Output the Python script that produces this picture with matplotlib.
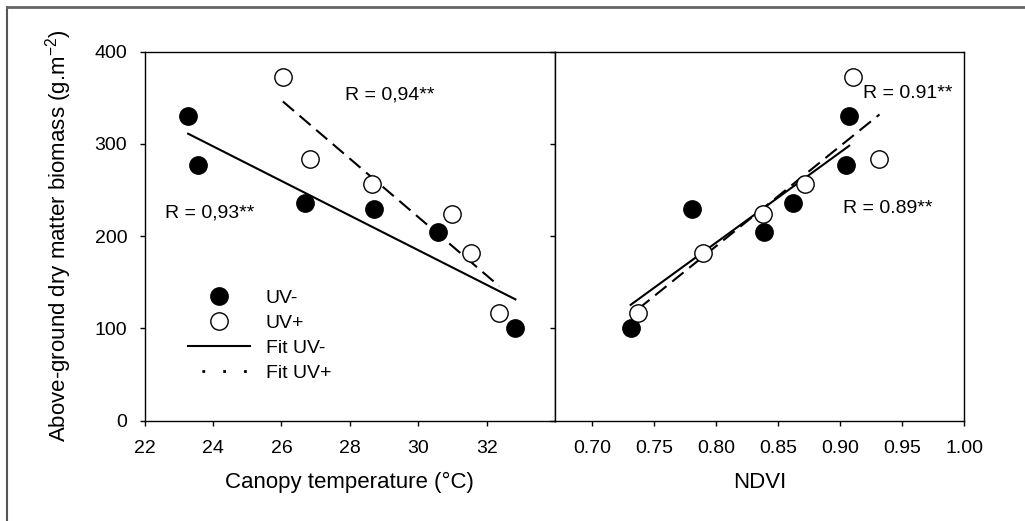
import matplotlib
matplotlib.use('Agg')
import matplotlib.pyplot as plt
import numpy as np
from matplotlib.lines import Line2D

plt.rcParams['font.family'] = ['Liberation Sans', 'DejaVu Sans']
plt.rcParams['mathtext.fontset'] = 'custom'
plt.rcParams['mathtext.rm'] = 'Liberation Sans'
plt.rcParams['mathtext.it'] = 'Liberation Sans:italic'

# Canopy temperature panel
temp_uvm = [23.27, 23.55, 26.70, 28.71, 30.59, 32.84]
bio_uvm_t = [330, 277, 236, 229, 205, 101]
temp_uvp = [26.04, 26.84, 28.65, 30.99, 31.55, 32.37]
bio_uvp_t = [373, 284, 257, 224, 182, 117]

# NDVI panel
ndvi_uvm = [0.731, 0.7805, 0.8387, 0.8618, 0.9048, 0.9072]
bio_uvm_n = [101, 229, 205, 236, 277, 330]
ndvi_uvp = [0.737, 0.789, 0.838, 0.8715, 0.9106, 0.9316]
bio_uvp_n = [117, 182, 224, 257, 373, 284]

temp_ticks = [22, 24, 26, 28, 30, 32]
ndvi_ticks = [0.70, 0.75, 0.80, 0.85, 0.90, 0.95, 1.00]
y_ticks = [0, 100, 200, 300, 400]

fig = plt.figure(figsize=(10.25, 5.21), dpi=100)
ax1 = fig.add_axes([0.1412, 0.1925, 0.4003, 0.7083])
ax2 = fig.add_axes([0.5415, 0.1925, 0.3993, 0.7083])

# grey frame around the figure (only top and left visible)
fig.add_artist(Line2D([7 / 1025, 7 / 1025], [0, 1 - 7 / 521], transform=fig.transFigure,
                      color='#555555', lw=1.5))
fig.add_artist(Line2D([7 / 1025, 1], [1 - 7 / 521, 1 - 7 / 521], transform=fig.transFigure,
                      color='#666666', lw=2))

ms = 12.5
dash = (0, (7, 3.5))


def fit(x, y):
    k, b = np.polyfit(x, y, 1)
    xs = np.array([min(x), max(x)])
    return xs, k * xs + b


for ax, xm, ym, xp, yp in [(ax1, temp_uvm, bio_uvm_t, temp_uvp, bio_uvp_t),
                           (ax2, ndvi_uvm, bio_uvm_n, ndvi_uvp, bio_uvp_n)]:
    fx, fy = fit(xm, ym)
    ax.plot(fx, fy, color='black', lw=1.5, zorder=2)
    fx, fy = fit(xp, yp)
    ax.plot(fx, fy, color='black', lw=1.5, linestyle=dash, zorder=2)
    ax.plot(xm, ym, 'o', color='black', ms=ms, zorder=3)
    ax.plot(xp, yp, 'o', mfc='white', mec='black', mew=1.0, ms=ms, zorder=3)
    ax.set_ylim(0, 400)
    ax.set_yticks(y_ticks)
    for s in ax.spines.values():
        s.set_linewidth(1.0)
    ax.tick_params(direction='out', length=3.6, width=1, labelsize=14)
    ax.tick_params(axis='x', pad=10)
    ax.tick_params(axis='y', pad=9)

ax1.set_xlim(22, 34)
ax1.set_xticks(temp_ticks)
ax1.set_xticklabels([str(t) for t in temp_ticks])
ax1.set_ylabel('Above-ground dry matter biomass (g.m$^{-2}$)', fontsize=16, labelpad=15)
ax1.set_xlabel('Canopy temperature (°C)', fontsize=16, labelpad=11)

ax2.set_xlim(0.67, 1.00)
ax2.set_xticks(ndvi_ticks)
ax2.set_xticklabels([f'{t:.2f}' for t in ndvi_ticks])
ax2.tick_params(axis='y', labelleft=False)
ax2.set_xlabel('NDVI', fontsize=16, labelpad=11)

ax1.text(0.488, 0.883, 'R = 0,94**', transform=ax1.transAxes, fontsize=14, va='center')
ax1.text(0.050, 0.563, 'R = 0,93**', transform=ax1.transAxes, fontsize=14, va='center')
ax2.text(0.7525, 0.888, 'R = 0.91**', transform=ax2.transAxes, fontsize=14, va='center')
ax2.text(0.7036, 0.574, 'R = 0.89**', transform=ax2.transAxes, fontsize=14, va='center')

handles = [
    Line2D([], [], marker='o', color='black', ls='none', ms=ms),
    Line2D([], [], marker='o', mfc='white', mec='black', mew=1.0, ls='none', ms=ms),
    Line2D([], [], color='black', lw=1.5),
    Line2D([], [], color='black', lw=2, ls=(2.5, (1, 6.5))),
]
labels = ['UV-', 'UV+', 'Fit UV-', 'Fit UV+']
ax1.legend(handles, labels, loc='upper left', bbox_to_anchor=(0.105, 0.356),
           frameon=False, fontsize=14, handlelength=3.2, handletextpad=0.8,
           labelspacing=0.38, borderpad=0, borderaxespad=0)

fig.savefig('out.png', dpi=100)
